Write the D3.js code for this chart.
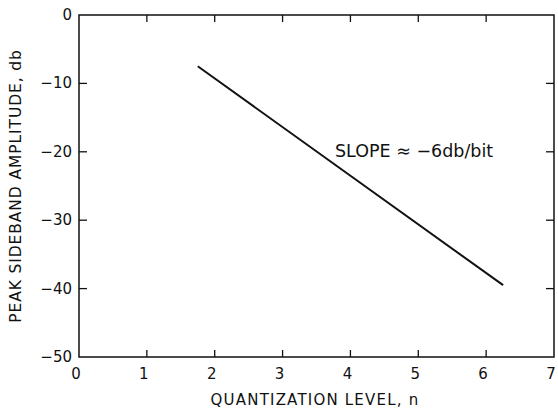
<!DOCTYPE html>
<html>
<head>
<meta charset="utf-8">
<script src="https://cdn.jsdelivr.net/npm/d3@7"></script>
<style>
  body { margin: 0; background: #fff; }
  svg text { font-family: "DejaVu Sans", "Liberation Sans", sans-serif; fill: #111; }
</style>
</head>
<body>
<div id="chart"></div>
<script>
// Data
const lineX = [1.75, 6.25];          // quantization level, n
const lineY = [-7.5, -39.5];         // peak sideband amplitude, db
const xTicks = [0, 1, 2, 3, 4, 5, 6, 7];
const yTicks = [0, -10, -20, -30, -40, -50];
const annotation = "SLOPE \u2248 \u22126db/bit";

const width = 558, height = 414;
const margin = { top: 15, right: 4, bottom: 57, left: 79 };

const svg = d3.select("#chart").append("svg")
    .attr("width", width)
    .attr("height", height);

// Scales
const x = d3.scaleLinear().domain([0, 7]).range([margin.left, width - margin.right]);
const y = d3.scaleLinear().domain([-50, 0]).range([height - margin.bottom, margin.top]);

// Frame
svg.append("rect")
    .attr("x", x(0)).attr("y", y(0))
    .attr("width", x(7) - x(0)).attr("height", y(-50) - y(0))
    .attr("fill", "none").attr("stroke", "#111").attr("stroke-width", 1.5);

// Inward ticks on all four sides
const inner = xTicks.slice(1, -1);
svg.selectAll(".xtick-b").data(inner).enter().append("line")
    .attr("x1", d => x(d)).attr("x2", d => x(d))
    .attr("y1", y(-50)).attr("y2", y(-50) - 7)
    .attr("stroke", "#111").attr("stroke-width", 1.3);
svg.selectAll(".xtick-t").data(inner).enter().append("line")
    .attr("x1", d => x(d)).attr("x2", d => x(d))
    .attr("y1", y(0)).attr("y2", y(0) + 7)
    .attr("stroke", "#111").attr("stroke-width", 1.3);

const yInner = yTicks.slice(1, -1);
svg.selectAll(".ytick-l").data(yInner).enter().append("line")
    .attr("x1", x(0)).attr("x2", x(0) + 8)
    .attr("y1", d => y(d)).attr("y2", d => y(d))
    .attr("stroke", "#111").attr("stroke-width", 1.3);
svg.selectAll(".ytick-r").data(yInner).enter().append("line")
    .attr("x1", x(7)).attr("x2", x(7) - 8)
    .attr("y1", d => y(d)).attr("y2", d => y(d))
    .attr("stroke", "#111").attr("stroke-width", 1.3);

// Tick labels
svg.selectAll(".xlab").data(xTicks).enter().append("text")
    .attr("x", d => x(d) - 3).attr("y", y(-50) + 22)
    .attr("text-anchor", "middle")
    .style("font-size", "15px")
    .text(d => d);

svg.selectAll(".ylab").data(yTicks).enter().append("text")
    .attr("x", x(0) - 7).attr("y", d => y(d) + 5)
    .attr("text-anchor", "end")
    .style("font-size", "15px")
    .text(d => d === 0 ? "0" : "\u2212" + Math.abs(d));

// Axis titles
svg.append("text")
    .attr("x", 315).attr("y", 405)
    .attr("text-anchor", "middle")
    .style("font-size", "15px")
    .style("letter-spacing", "1.2px")
    .text("QUANTIZATION LEVEL, n");

svg.append("text")
    .attr("transform", "translate(21,186) rotate(-90)")
    .attr("text-anchor", "middle")
    .style("font-size", "15.5px")
    .style("letter-spacing", "0.9px")
    .text("PEAK SIDEBAND AMPLITUDE, db");

// The line
const line = d3.line().x(d => x(d[0])).y(d => y(d[1]));
svg.append("path")
    .datum(d3.zip(lineX, lineY))
    .attr("d", line)
    .attr("fill", "none")
    .attr("stroke", "#111")
    .attr("stroke-width", 2);

// Annotation
svg.append("text")
    .attr("x", 335).attr("y", 157)
    .style("font-size", "17.5px")
    .text(annotation);
</script>
</body>
</html>
